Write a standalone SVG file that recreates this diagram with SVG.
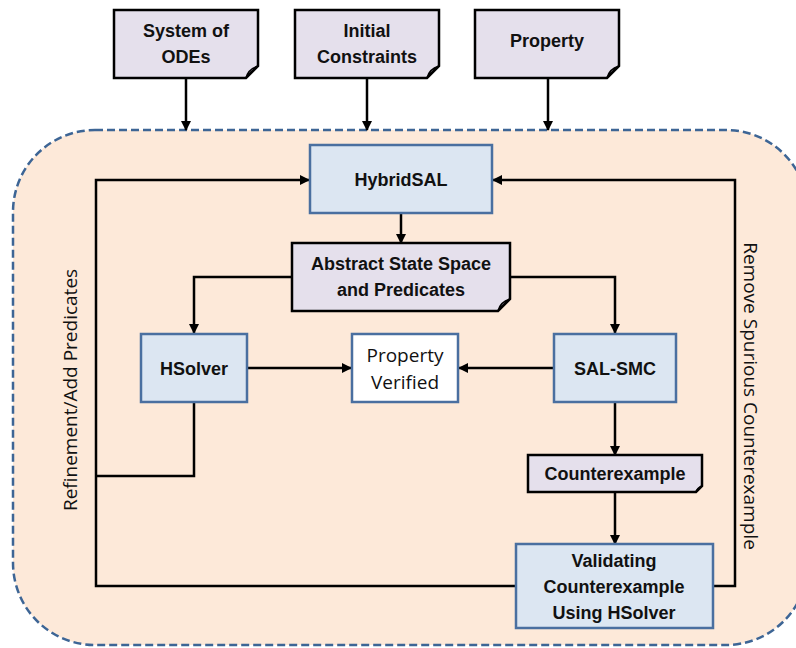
<svg xmlns="http://www.w3.org/2000/svg" width="796" height="648" viewBox="0 0 796 648">
<style>
.note{fill:#e5e0ec;stroke:#000;stroke-width:2.5;stroke-linejoin:miter}
.fold{fill:#c9c2d6;stroke:#000;stroke-width:1.5}
.proc{fill:#dce6f2;stroke:#4a6fa0;stroke-width:2.5}
.res{fill:#fff;stroke:#4a6fa0;stroke-width:2.5}
.lbl{font-family:"Liberation Sans",Arial,sans-serif;font-weight:bold;font-size:18px;fill:#111;text-anchor:middle}
.plain{font-family:"Open Sans","Liberation Sans",sans-serif;font-size:19px;fill:#111;text-anchor:middle}
.side{font-family:"Open Sans","Liberation Sans",sans-serif;font-size:19px;fill:#111;text-anchor:middle}
.ln{fill:none;stroke:#000;stroke-width:2.5}
</style>
<defs>
<marker id="ah" markerWidth="10" markerHeight="10" refX="9" refY="5" orient="auto" markerUnits="userSpaceOnUse">
<path d="M0,0 L10,5 L0,10 Z" fill="#000"/>
</marker>
</defs>
<rect id="container" x="13" y="130" width="795" height="515" rx="82" ry="82" fill="#fde9d9" stroke="#3d6595" stroke-width="2.5" stroke-dasharray="8,4"/>

<g id="connectors">
<line class="ln" x1="186" y1="79" x2="186" y2="130" marker-end="url(#ah)"/>
<line class="ln" x1="367" y1="79" x2="367" y2="130" marker-end="url(#ah)"/>
<line class="ln" x1="548" y1="79" x2="548" y2="130" marker-end="url(#ah)"/>
<line class="ln" x1="401" y1="213" x2="401" y2="243" marker-end="url(#ah)"/>
<polyline class="ln" points="292,277 194,277 194,333" marker-end="url(#ah)"/>
<polyline class="ln" points="510,277 615,277 615,333" marker-end="url(#ah)"/>
<line class="ln" x1="247" y1="368" x2="351" y2="368" marker-end="url(#ah)"/>
<line class="ln" x1="554" y1="368" x2="459" y2="368" marker-end="url(#ah)"/>
<line class="ln" x1="615" y1="402" x2="615" y2="455" marker-end="url(#ah)"/>
<line class="ln" x1="615" y1="492" x2="615" y2="544" marker-end="url(#ah)"/>
<polyline class="ln" points="194,402 194,476 96,476"/>
<polyline class="ln" points="516,586 96,586 96,180 309,180" marker-end="url(#ah)"/>
<polyline class="ln" points="713,586 735,586 735,180 493,180" marker-end="url(#ah)"/>
</g>

<g id="odes">
<path class="note" d="M114,10 H258 V66 L246,78 H114 Z"/>
<path class="fold" d="M246,78 Q248,69 258,66 Q250,72 246,78 Z"/>
<text class="lbl" x="186" y="37">System of</text>
<text class="lbl" x="186" y="63">ODEs</text>
</g>
<g id="initial">
<path class="note" d="M295,10 H439 V66 L427,78 H295 Z"/>
<path class="fold" d="M427,78 Q429,69 439,66 Q431,72 427,78 Z"/>
<text class="lbl" x="367" y="37">Initial</text>
<text class="lbl" x="367" y="63">Constraints</text>
</g>
<g id="property">
<path class="note" d="M475,10 H619 V66 L607,78 H475 Z"/>
<path class="fold" d="M607,78 Q609,69 619,66 Q611,72 607,78 Z"/>
<text class="lbl" x="547" y="47">Property</text>
</g>

<g id="hybridsal">
<rect class="proc" x="310" y="145" width="182" height="68"/>
<text class="lbl" x="401" y="186">HybridSAL</text>
</g>
<g id="abstract">
<path class="note" d="M292,243 H510 V299 L498,311 H292 Z"/>
<path class="fold" d="M498,311 Q500,302 510,299 Q502,305 498,311 Z"/>
<text class="lbl" x="401" y="270">Abstract State Space</text>
<text class="lbl" x="401" y="296">and Predicates</text>
</g>
<g id="hsolver">
<rect class="proc" x="141" y="334" width="106" height="68"/>
<text class="lbl" x="194" y="375">HSolver</text>
</g>
<g id="verified">
<rect class="res" x="352" y="334" width="106" height="68"/>
<text class="plain" x="405" y="362">Property</text>
<text class="plain" x="405" y="389">Verified</text>
</g>
<g id="salsmc">
<rect class="proc" x="554" y="334" width="122" height="68"/>
<text class="lbl" x="615" y="375">SAL-SMC</text>
</g>
<g id="counterexample">
<path class="note" d="M528,455 H702 V486 L696,492 H528 Z"/>
<path class="fold" d="M696,492 Q697,488 702,486 Q698,489 696,492 Z"/>
<text class="lbl" x="615" y="480">Counterexample</text>
</g>
<g id="validating">
<rect class="proc" x="516" y="544" width="197" height="84"/>
<text class="lbl" x="614" y="567">Validating</text>
<text class="lbl" x="614" y="593">Counterexample</text>
<text class="lbl" x="614" y="619">Using HSolver</text>
</g>

<text class="side" transform="translate(77,390) rotate(-90)">Refinement/Add Predicates</text>
<text class="side" transform="translate(744,396) rotate(90)">Remove Spurious Counterexample</text>
</svg>
